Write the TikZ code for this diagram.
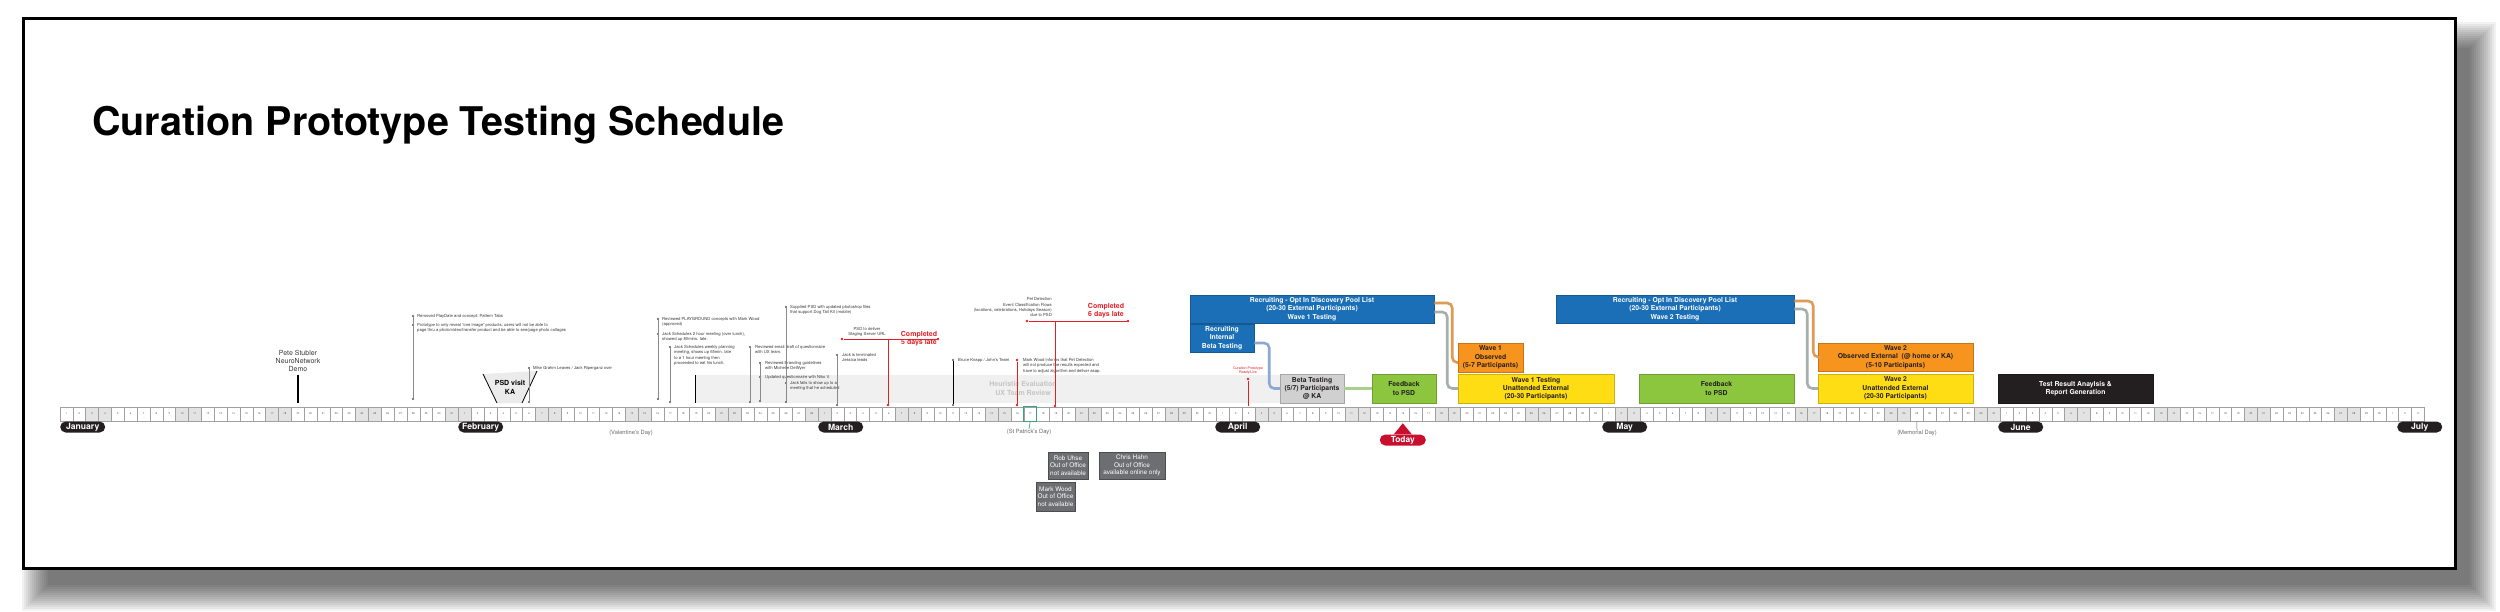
\documentclass[tikz,border=0pt]{standalone}
\usepackage{fontspec}
\setmainfont{TeX Gyre Heros}
\definecolor{recblue}{HTML}{1B6FB6}
\definecolor{obsorange}{HTML}{F7941E}
\definecolor{testyellow}{HTML}{FFDD15}
\definecolor{fbgreen}{HTML}{8CC63F}
\definecolor{betagray}{HTML}{D0D0D0}
\definecolor{resblack}{HTML}{231F20}
\definecolor{boxtext}{HTML}{231F20}
\definecolor{pillblack}{HTML}{231F20}
\definecolor{todayred}{HTML}{C8102E}
\definecolor{latered}{HTML}{E31E25}
\definecolor{cellline}{HTML}{A0A0A0}
\definecolor{weekend}{HTML}{E3E3E3}
\definecolor{daytext}{HTML}{555555}
\definecolor{pingray}{HTML}{8A8A8A}
\definecolor{dotgray}{HTML}{555555}
\definecolor{notetext}{HTML}{3A3A3A}
\definecolor{heurfill}{HTML}{F0F0F0}
\definecolor{heurtext}{HTML}{C4C4C4}
\definecolor{visitgray}{HTML}{EBEBEB}
\definecolor{holidaytext}{HTML}{6A6A6A}
\definecolor{stpatgreen}{HTML}{3AA57A}
\definecolor{awaygray}{HTML}{6D6E71}
\definecolor{linkblue}{HTML}{8EA8D2}
\definecolor{linkgreen}{HTML}{A9D18E}
\definecolor{linkorange}{HTML}{DE9A57}
\definecolor{linkgray}{HTML}{A5B0AA}
\begin{document}
\begin{tikzpicture}[x=1pt, y=-1pt,
    every node/.style={inner sep=0pt},
    cell/.style={draw=cellline, line width=0.5pt, minimum width=12.85pt, minimum height=14pt, font=\fontsize{2.6}{3}\selectfont, text=daytext},
    month/.style={fill=pillblack, text=white, rounded corners=5.5pt, minimum width=45pt, minimum height=11pt, anchor=west, font=\bfseries\fontsize{8.6}{9}\selectfont},
    task/.style={fill=#1, draw=#1!80!black, line width=0.5pt, align=center, text=boxtext, font=\bfseries\fontsize{6.8}{8.3}\selectfont},
    link/.style={draw=#1, line width=2.6pt, rounded corners=5pt},
    note/.style={anchor=north west, align=left, text=notetext, font=\fontsize{4.2}{5.3}\selectfont},
    pin/.style={draw=pingray, line width=0.7pt},
    dot/.style={circle, fill=dotgray, minimum size=2.2pt},
    reddot/.style={circle, fill=latered, minimum size=2.6pt},
    late/.style={align=center, text=latered, font=\bfseries\fontsize{7}{8.2}\selectfont},
    holiday/.style={text=holidaytext, font=\fontsize{5.8}{6}\selectfont},
    away/.style={fill=awaygray, draw=awaygray!70!black, line width=0.5pt, text=white, align=center, font=\fontsize{6.4}{7.5}\selectfont}
  ]
  \useasboundingbox (0,0) rectangle (2500,611);
  \foreach \r in {0,2,...,26}
    \fill[black, opacity=0.05] (48-\r,48-\r) rectangle (2470+\r,585+\r);
  \fill[white] (23,18) rectangle (2455,568);
  \draw[line width=3pt] (23,18) rectangle (2455,568);

  \node[anchor=base west, font=\bfseries\fontsize{39.5}{40}\selectfont] (title) at (92,135) {Curation Prototype Testing Schedule};

  % days of the year
  \foreach \monstart/\monlen in {0/31,31/28,59/31,90/30,120/31,151/30,181/3}{
    \foreach \dd in {1,...,\monlen}{
      \pgfmathtruncatemacro\dayidx{\monstart+\dd-1}
      \pgfmathtruncatemacro\wkday{mod(\dayidx,7)}
      \ifnum\wkday>1 \ifnum\wkday<4 \def\cellfill{weekend}\else\def\cellfill{white}\fi\else\def\cellfill{white}\fi
      \node[cell, fill=\cellfill] (day\dayidx) at ({60+12.85*(\dayidx+0.5)},414) {\dd};
    }
  }
  \node[month] (jan) at (60,427) {January};
  \node[month] (feb) at (458,427) {February};
  \node[month] (mar) at (818,427) {March};
  \node[month] (apr) at (1215,427) {April};
  \node[month] (may) at (1602,427) {May};
  \node[month] (jun) at (1998,427) {June};
  \node[month] (jul) at (2397,427) {July};

  \node[holiday] (valday) at (631,433) {(Valentine's Day)};
  \node[holiday] (patday) at (1029,432) {(St Patrick's Day)};
  \node[holiday] (memday) at (1917,433) {(Memorial Day)};
  \draw[stpatgreen, line width=0.8pt] (day75.south west) rectangle (day75.north east);
  \draw[stpatgreen, line width=0.6pt] (day75.south) -- (patday.north);
  \draw[holidaytext, line width=0.5pt] (day144.south) -- (memday.north);

  \node[fill=todayred, text=white, rounded corners=5.5pt, minimum width=46pt, minimum height=11pt, font=\bfseries\fontsize{8.4}{9}\selectfont] (today) at (1402.8,440) {Today};
  \fill[todayred] ([yshift=-2pt]day104.south) -- ([xshift=-9pt]today.north) -- ([xshift=9pt]today.north) -- cycle;

  % review period
  \fill[heurfill] (695,375) rectangle (1280,403);
  \draw[line width=0.9pt] (695,375) -- (695,403);
  \node[align=center, text=heurtext, font=\bfseries\fontsize{7}{8.7}\selectfont] (heur) at (1023,388.5) {Heuristic Evaluation\\UX Team Review};

  \node[align=center, text=notetext, font=\fontsize{7}{8}\selectfont] (pete) at (298,361) {Pete Stubler\\NeuroNetwork\\Demo};
  \coordinate (peteday) at (298,403);
  \draw[line width=1.2pt] ([yshift=-3pt]pete.south) -- (peteday);

  \node[dot] (rmtop) at (413,316) {};
  \node[dot] (rmmid) at (413,325) {};
  \node[dot] (rmbot) at (413,399) {};
  \draw[pin] (rmtop) -- (rmbot);
  \node[note] (rmtxt) at (417,314.2) {Removed PlayDate and concept: Pattern Tabs};
  \node[note] (protxt) at (417,323.2) {Prototype to only reveal ``one image'' products, users will not be able to\\page thru a photo/video/transfer product and be able to see/page photo collages};

  \fill[visitgray] (483,374) -- (537,371) -- (522,403) -- (497,403) -- cycle;
  \draw[line width=0.8pt] (483,374) -- (497,403);
  \draw[line width=0.8pt] (537,371) -- (522,403);
  \node[align=center, font=\bfseries\fontsize{7}{8.6}\selectfont] (psdvisit) at (510,387.5) {PSD visit\\KA};

  \node[dot] (mgtop) at (529,368) {};
  \node[dot] (mgbot) at (529,402) {};
  \draw[pin] (mgtop) -- (mgbot);
  \node[note] (mgtxt) at (533,366.2) {Mike Grahm Leaves / Jack Riperganz over};

  \node[dot] (pgtop) at (658,319) {};
  \node[dot] (pgmid) at (658,334) {};
  \node[dot] (pgbot) at (658,399) {};
  \draw[pin] (pgtop) -- (pgbot);
  \node[note] (pgtxt) at (662,317.2) {Reviewed PLAYGROUND concepts with Mark Wood\\(approved)};
  \node[note] (lunchtxt) at (662,332.2) {Jack Schedules 2 hour meeting (over lunch),\\showed up 80mins. late.};

  \node[dot] (wktop) at (670,347) {};
  \node[dot] (wkbot) at (670,402) {};
  \draw[pin] (wktop) -- (wkbot);
  \node[note] (wktxt) at (674,345.2) {Jack Schedules weekly planning\\meeting, shows up 65min. late\\to a 1 hour meeting then\\proceeded to eat his lunch.};

  \node[dot] (emtop) at (750,347) {};
  \node[dot] (embot) at (750,402) {};
  \draw[pin] (emtop) -- (embot);
  \node[note] (emtxt) at (755,345.2) {Reviewed email draft of questionnaire\\with UX team.};

  \node[dot] (brtop) at (760,363) {};
  \node[dot] (brmid) at (760,377) {};
  \node[dot] (brbot) at (760,401) {};
  \draw[pin] (brtop) -- (brbot);
  \node[note] (brtxt) at (765,361.2) {Reviewed Branding guidelines\\with Michelle DeWyer};
  \node[note] (qutxt) at (765,375.2) {Updated questionnaire with Niko V.};

  \node[dot] (sptop) at (786,307) {};
  \node[dot] (spmid) at (786,383) {};
  \node[dot] (spbot) at (786,402) {};
  \draw[pin] (sptop) -- (spbot);
  \node[note] (sptxt) at (790,305.2) {Supplied PSD with updated photoshop files\\that support Dog Tail Kit (mobile)};
  \node[note] (nstxt) at (790,381.2) {Jack fails to show up to a\\meeting that he scheduled};

  \node[dot] (jttop) at (837,355) {};
  \node[dot] (jtbot) at (837,405) {};
  \draw[pin] (jttop) -- (jtbot);
  \node[note] (jttxt) at (842,353.2) {Jack is terminated\\Jessica leads};

  % staging server, late
  \node[align=center, text=notetext, font=\fontsize{4.2}{5.6}\selectfont] (stagetxt) at (867,332) {PSD to deliver\\Staging Server URL};
  \node[reddot] (stageleft) at (842,339) {};
  \node[reddot] (stageright) at (938,339) {};
  \coordinate (stagejoin) at (888,339);
  \node[reddot] (stagebot) at (888,405) {};
  \draw[latered, line width=0.9pt] (stageleft) -- (stageright);
  \draw[latered, line width=0.9pt] (stagejoin) -- (stagebot);
  \node[late] (latefive) at (919,339) {Completed\\5 days late};

  \node[dot] (bktop) at (953,360) {};
  \node[dot] (bkbot) at (953,405) {};
  \draw[line width=0.8pt] (bktop) -- (bkbot);
  \node[note] (bktxt) at (958,358.2) {Bruce Knapp / John's Team};

  \node[reddot] (mwtop) at (1017,360) {};
  \node[reddot] (mwbot) at (1017,405) {};
  \draw[latered, line width=0.4pt] (mwtop) -- (mwbot);
  \node[note] (mwtxt) at (1023,358.2) {Mark Wood informs that Pet Detection\\will not produce the results expected and\\have to adjust algorithm and deliver asap.};

  % pet detection, late
  \node[anchor=north east, align=right, text=notetext, font=\fontsize{4.2}{5.4}\selectfont] (pettxt) at (1052,297.5) {Pet Detection\\Event Classification Flows\\(locations, celebrations, Holidays Season)\\due to PSD};
  \node[reddot] (petleft) at (1027,321) {};
  \node[reddot] (petright) at (1128,321) {};
  \coordinate (petjoin) at (1055,321);
  \node[reddot] (petbot) at (1055,406) {};
  \draw[latered, line width=0.9pt] (petleft) -- (petright);
  \draw[latered, line width=0.9pt] (petjoin) -- (petbot);
  \node[late] (latesix) at (1106,310.5) {Completed\\6 days late};

  \node[align=center, text=latered, font=\fontsize{3.6}{4.8}\selectfont] (livetxt) at (1248,370.5) {Curation Prototype\\Ready/Live};
  \node[reddot] (livetop) at (1248,379) {};
  \coordinate (liveday) at (1248,406);
  \draw[latered, line width=0.4pt] (livetop) -- (liveday);

  % testing waves
  \node[task=recblue, text=white, minimum width=244pt, minimum height=28pt] (recone) at (1312,309) {Recruiting - Opt In Discovery Pool List\\(20-30 External Participants)\\Wave 1 Testing};
  \node[task=recblue, text=white, minimum width=64pt, minimum height=28pt] (recint) at (1222,338) {Recruiting\\Internal\\Beta Testing};
  \node[task=betagray, minimum width=64pt, minimum height=29pt] (beta) at (1312,388.5) {Beta Testing\\(5/7) Participants\\@ KA};
  \node[task=fbgreen, minimum width=64pt, minimum height=29pt] (fbone) at (1404,388.5) {Feedback\\to PSD};
  \node[task=obsorange, minimum width=65pt, minimum height=29pt] (obsone) at (1490.5,357.5) {Wave 1\\Observed\\(5-7 Participants)};
  \node[task=testyellow, minimum width=156pt, minimum height=29pt] (unone) at (1536,388.5) {Wave 1 Testing\\Unattended External\\(20-30 Participants)};
  \node[task=recblue, text=white, minimum width=238pt, minimum height=28pt] (rectwo) at (1675,309) {Recruiting - Opt In Discovery Pool List\\(20-30 External Participants)\\Wave 2 Testing};
  \node[task=fbgreen, minimum width=155pt, minimum height=29pt] (fbtwo) at (1716.5,388.5) {Feedback\\to PSD};
  \node[task=obsorange, minimum width=155pt, minimum height=28pt] (obstwo) at (1895.5,357) {Wave 2\\Observed External\ \ (@ home or KA)\\(5-10 Participants)};
  \node[task=testyellow, minimum width=155pt, minimum height=29pt] (untwo) at (1895.5,388.5) {Wave 2\\Unattended External\\(20-30 Participants)};
  \node[task=resblack, text=white, minimum width=155pt, minimum height=29pt] (report) at (2075.5,388.5) {Test Result Anaylsis \&\\Report Generation};

  \draw[link=linkblue] ([yshift=-5pt]recint.east) -- ++(15,0) |- (beta.west);
  \draw[link=linkgreen] (beta.east) -- (fbone.west);
  \draw[link=linkorange] ([yshift=6pt]recone.east) -- ++(18,0) |- ([yshift=-5pt]obsone.west);
  \draw[link=linkgray] ([yshift=-3pt]recone.east) -- ++(13,0) |- (unone.west);
  \draw[link=linkorange] ([yshift=8pt]rectwo.east) -- ++(19,0) |- (obstwo.west);
  \draw[link=linkgray] (rectwo.east) -- ++(13,0) |- (untwo.west);

  % out of office
  \node[away, minimum width=40pt, minimum height=27pt] (awayrob) at (1068,465.5) {Rob Uhse\\Out of Office\\not available};
  \node[away, minimum width=66pt, minimum height=27pt] (awaychris) at (1132,465.5) {Chris Hahn\\Out of Office\\available online only};
  \node[away, minimum width=39pt, minimum height=29pt] (awaymark) at (1055.5,496.5) {Mark Wood\\Out of Office\\not available};
\end{tikzpicture}
\end{document}
